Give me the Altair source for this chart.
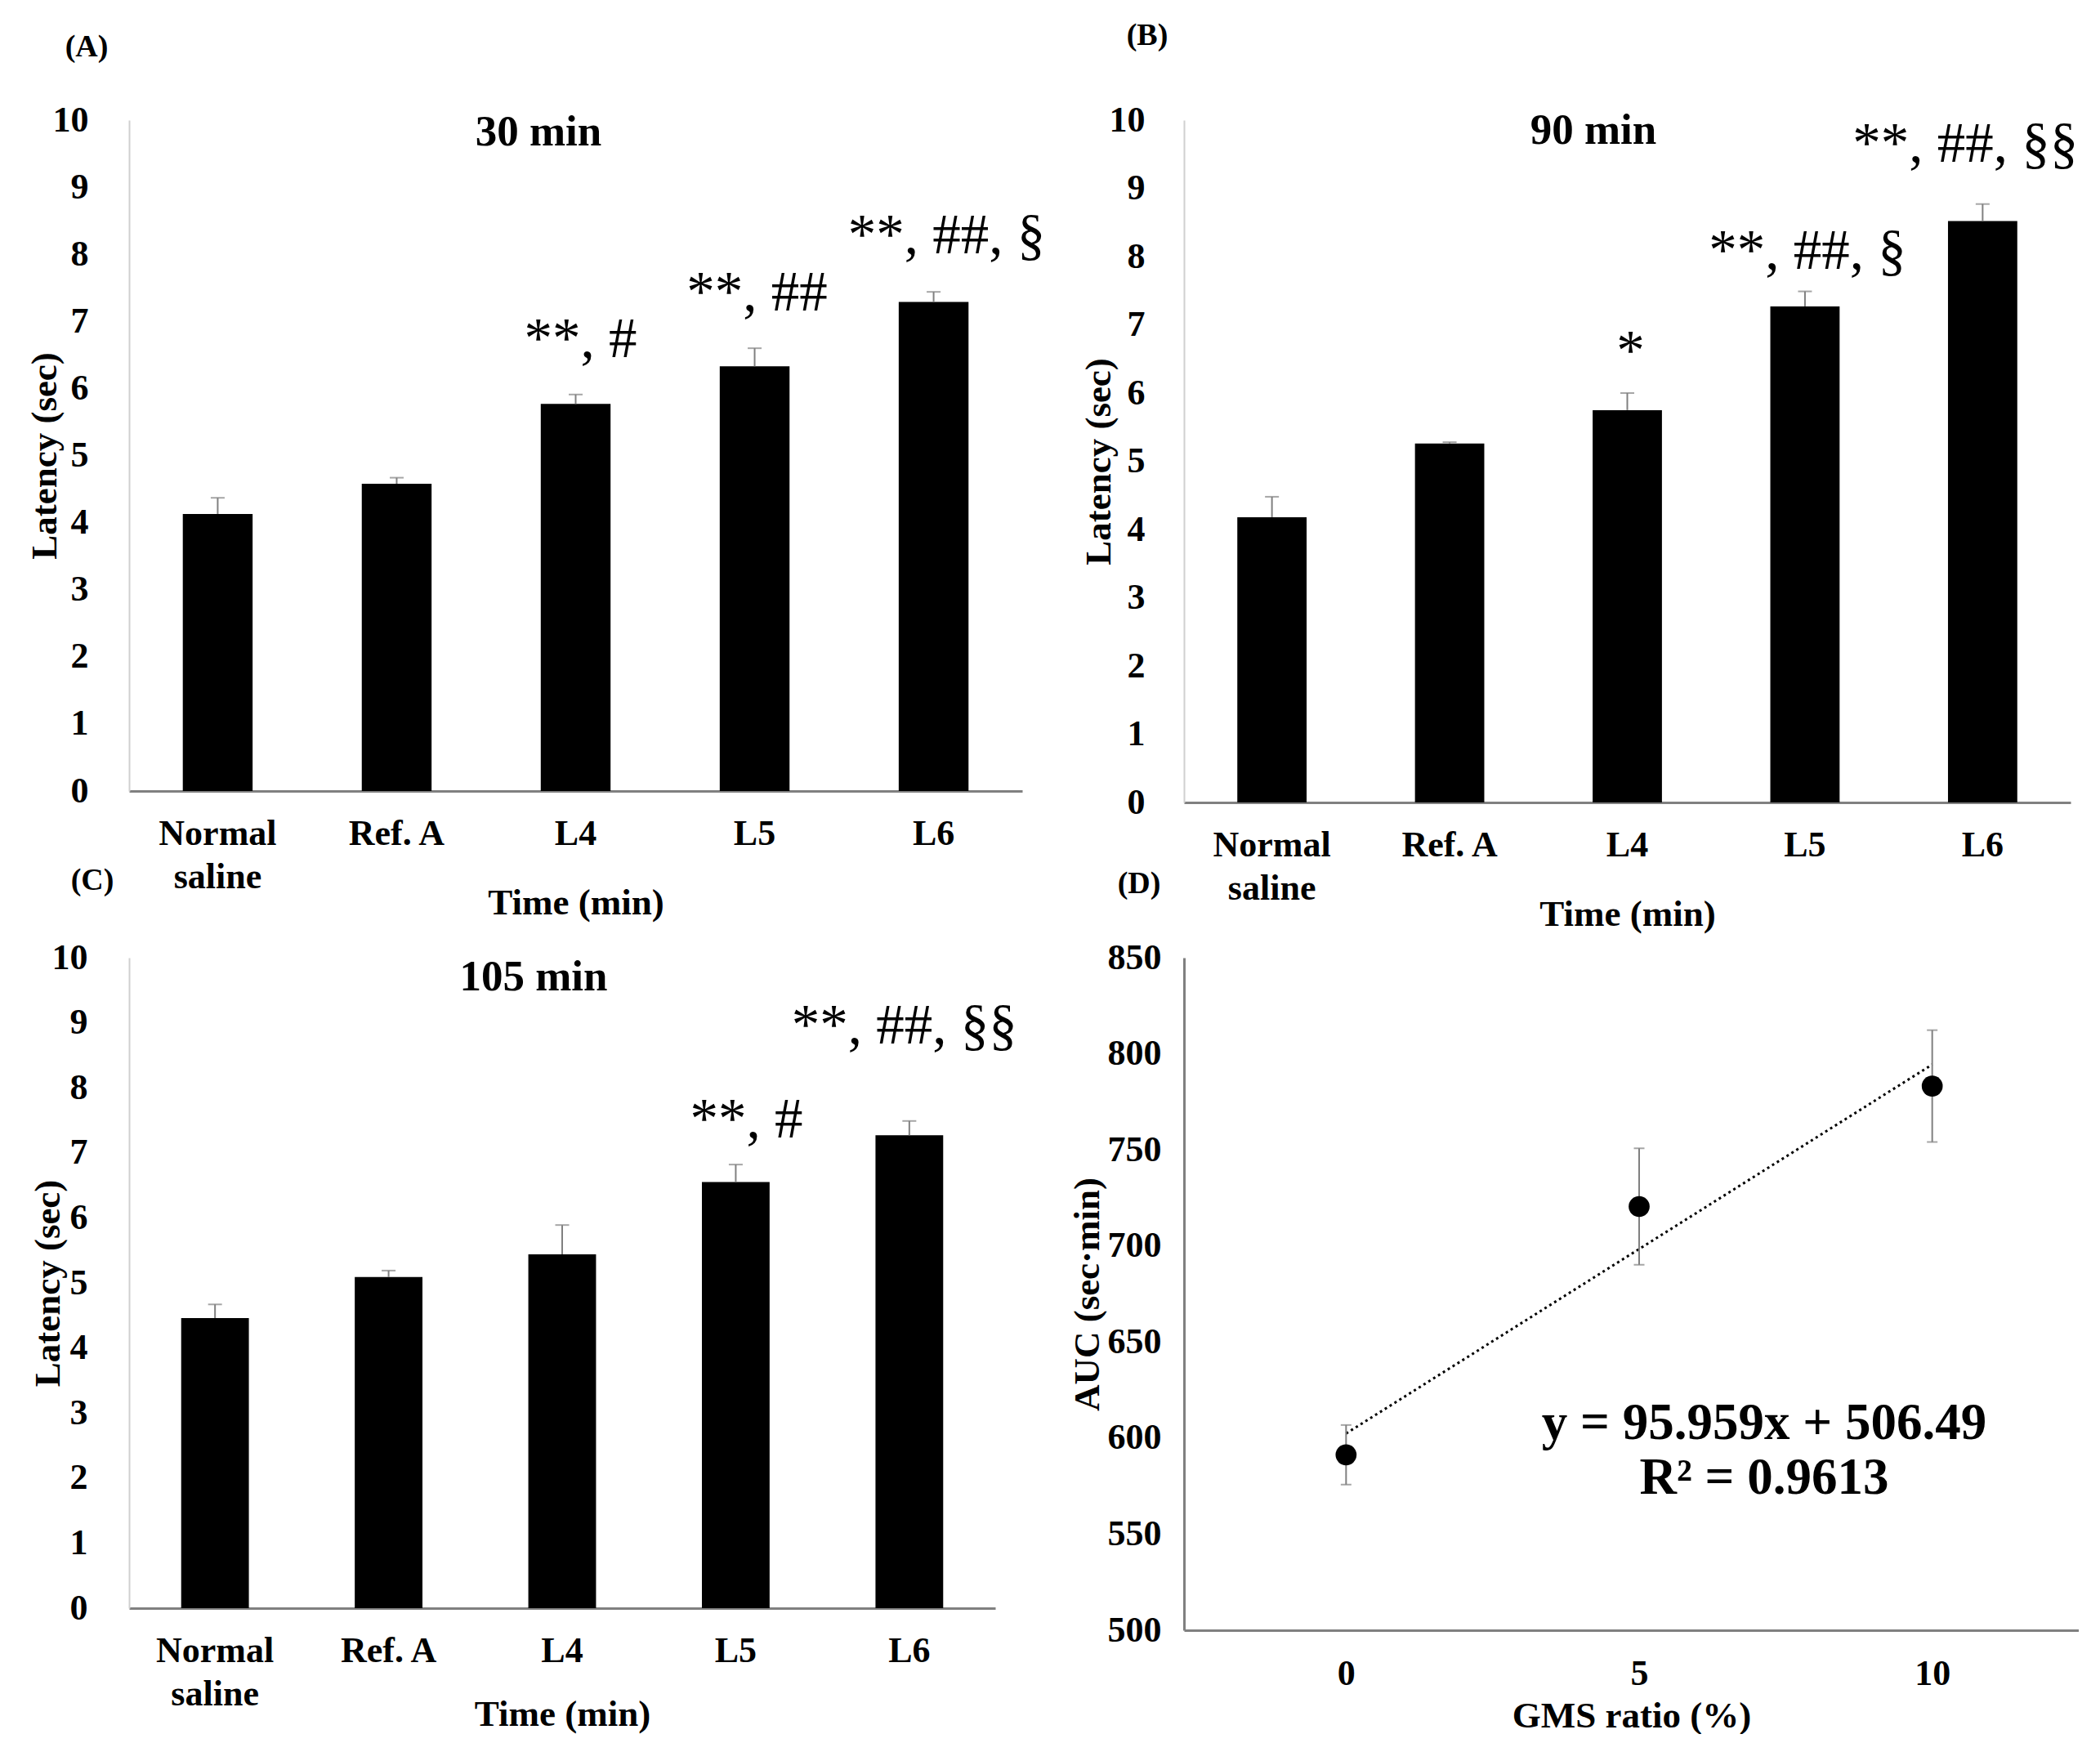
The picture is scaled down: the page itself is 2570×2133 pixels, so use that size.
import pandas as pd
import altair as alt

# ---- data ----
groups = ["Normal saline", "Ref. A", "L4", "L5", "L6"]

lat_30 = [4.13, 4.58, 5.77, 6.33, 7.29]
err_30 = [0.24, 0.09, 0.14, 0.27, 0.15]
lat_90 = [4.18, 5.26, 5.75, 7.27, 8.52]
err_90 = [0.30, 0.02, 0.25, 0.22, 0.25]
lat_105 = [4.46, 5.09, 5.44, 6.55, 7.27]
err_105 = [0.21, 0.10, 0.45, 0.27, 0.22]

# significance marks: group, text, height (sec)
sig_30 = [("L4", "**, #", 6.72), ("L5", "**, ##", 7.42), ("L6", "**, ##, §", 8.27)]
sig_90 = [("L4", "*", 6.60), ("L5", "**, ##, §", 8.07), ("L6", "**, ##, §§", 9.64)]
sig_105 = [("L5", "**, #", 7.50), ("L6", "**, ##, §§", 8.94)]

gms = [0, 5, 10]
auc = [591.3, 720.5, 783.2]
auc_err = [15.5, 30.3, 29.1]
trend_x = [0, 10]
trend_y = [602.4, 794.4]
eq_lines = ["y = 95.959x + 506.49", "R² = 0.9613"]

FONT = "Liberation Serif"
GREY = "#808080"
LIGHT = "#d0d0d0"


def bar_panel(vals, errs, sig, sig_dx, title, title_pos, tag, tag_pos, w, h,
              lab_pad, ytitle_x, xtitle_y):
    df = pd.DataFrame({"group": groups, "lat": vals,
                       "top": [v + e for v, e in zip(vals, errs)]})
    x_axis = alt.Axis(labelAngle=0, labelFontSize=44, labelFontWeight="bold", labelColor="black",
                      labelExpr="datum.value == 'Normal saline' ? ['Normal', 'saline'] : datum.value",
                      labelBaseline="top", labelPadding=30, labelLineHeight=53,
                      ticks=False, tickSize=0, domainColor=GREY, domainWidth=3, grid=False,
                      titleFontSize=45, titleFontWeight="bold", titleColor="black",
                      titleX=w / 2, titleY=xtitle_y, titleBaseline="middle", titleAlign="center")
    y_axis = alt.Axis(values=list(range(11)), labelFontSize=44, labelFontWeight="bold",
                      labelColor="black", labelPadding=lab_pad, ticks=False, tickSize=0,
                      domainColor=LIGHT, domainWidth=2, grid=False,
                      titleFontSize=45, titleFontWeight="bold", titleColor="black",
                      titleX=ytitle_x, titleY=h / 2, titleAngle=-90,
                      titleBaseline="middle", titleAlign="center")
    xs = alt.Scale(paddingInner=0.61, paddingOuter=0.3)
    ys = alt.Scale(domain=[0, 10], nice=False)

    def X():
        return alt.X("group:N", sort=groups, title="Time (min)", scale=xs, axis=x_axis)

    def Y(field):
        return alt.Y(field, type="quantitative", title="Latency (sec)", scale=ys, axis=y_axis)

    bars = alt.Chart(df).mark_bar(color="black").encode(x=X(), y=Y("lat"))
    rule = alt.Chart(df).mark_rule(color=GREY, strokeWidth=2).encode(x=X(), y=Y("lat"), y2="top")
    cap = alt.Chart(df).mark_tick(color=GREY, size=17, thickness=2).encode(x=X(), y=Y("top"))
    layers = [bars, rule, cap]

    for (g, txt, hgt), dx in zip(sig, sig_dx):
        sdf = pd.DataFrame({"group": [g], "txt": [txt], "h": [hgt]})
        layers.append(alt.Chart(sdf).mark_text(fontSize=69, fontWeight="normal", color="black",
                                               align="center", baseline="middle", dx=dx)
                      .encode(x=X(), y=Y("h"), text="txt:N"))

    tdf = pd.DataFrame({"t": [title]})
    layers.append(alt.Chart(tdf).mark_text(fontSize=53, fontWeight="bold", color="black",
                                           align="center", baseline="middle")
                  .encode(text="t:N", x=alt.value(title_pos[0]), y=alt.value(title_pos[1])))
    gdf = pd.DataFrame({"t": [tag]})
    layers.append(alt.Chart(gdf).mark_text(fontSize=38, fontWeight="bold", color="black",
                                           align="center", baseline="middle")
                  .encode(text="t:N", x=alt.value(tag_pos[0]), y=alt.value(tag_pos[1])))
    return alt.layer(*layers).properties(width=w, height=h)


pA = bar_panel(lat_30, err_30, sig_30, [6, 3, 16], "30 min", (501, 15), "(A)", (-52, -89),
               1093, 821, 50, -104, 136)
pB = bar_panel(lat_90, err_90, sig_90, [4, 3, -21], "90 min", (501, 13), "(B)", (-45, -103),
               1085, 835, 48, -105, 136)
pC = bar_panel(lat_105, err_105, sig_105, [13, -6], "105 min", (495, 24), "(C)", (-45, -94),
               1060, 796, 51, -100, 129)

# ---- panel D ----
wD, hD = 1095, 823
dfD = pd.DataFrame({"gms": gms, "auc": auc,
                    "lo": [a - e for a, e in zip(auc, auc_err)],
                    "hi": [a + e for a, e in zip(auc, auc_err)]})
dfT = pd.DataFrame({"gms": trend_x, "auc": trend_y})

xD_axis = alt.Axis(values=gms, format="d", labelAngle=0, labelFontSize=44, labelFontWeight="bold",
                   labelColor="black", labelBaseline="top", labelPadding=31,
                   ticks=False, tickSize=0, domainColor=GREY, domainWidth=3, grid=False,
                   titleFontSize=45, titleFontWeight="bold", titleColor="black",
                   titleX=wD / 2, titleY=104, titleBaseline="middle", titleAlign="center")
yD_axis = alt.Axis(values=list(range(500, 851, 50)), labelFontSize=44, labelFontWeight="bold",
                   labelColor="black", labelPadding=28, ticks=False, tickSize=0,
                   domainColor=GREY, domainWidth=3, grid=False,
                   titleFontSize=45, titleFontWeight="bold", titleColor="black",
                   titleX=-119, titleY=hD / 2, titleAngle=-90,
                   titleBaseline="middle", titleAlign="center")
xDs = alt.Scale(domain=[-2.765, 12.5], nice=False, zero=False)
yDs = alt.Scale(domain=[500, 850], nice=False, zero=False)


def XD():
    return alt.X("gms:Q", title="GMS ratio (%)", scale=xDs, axis=xD_axis)


def YD(field):
    return alt.Y(field, type="quantitative", title="AUC (sec·min)", scale=yDs, axis=yD_axis)


trend = alt.Chart(dfT).mark_line(color="black", strokeDash=[3, 4], strokeWidth=3).encode(x=XD(), y=YD("auc"))
erule = alt.Chart(dfD).mark_rule(color=GREY, strokeWidth=2).encode(x=XD(), y=YD("lo"), y2="hi")
ecap_lo = alt.Chart(dfD).mark_tick(color=GREY, size=13, thickness=2, orient="horizontal").encode(x=XD(), y=YD("lo"))
ecap_hi = alt.Chart(dfD).mark_tick(color=GREY, size=13, thickness=2, orient="horizontal").encode(x=XD(), y=YD("hi"))
pts = alt.Chart(dfD).mark_circle(color="black", size=660, opacity=1).encode(x=XD(), y=YD("auc"))
eq = alt.Chart(pd.DataFrame({"t": [eq_lines[0]]})).mark_text(
    fontSize=63, fontWeight="bold", color="black", align="center", baseline="middle"
).encode(text="t:N", x=alt.value(710), y=alt.value(570))
r2 = alt.Chart(pd.DataFrame({"t": [eq_lines[1]]})).mark_text(
    fontSize=63, fontWeight="bold", color="black", align="center", baseline="middle"
).encode(text="t:N", x=alt.value(710), y=alt.value(637))
tagD = alt.Chart(pd.DataFrame({"t": ["(D)"]})).mark_text(
    fontSize=38, fontWeight="bold", color="black", align="center", baseline="middle"
).encode(text="t:N", x=alt.value(-55), y=alt.value(-90))

pD = alt.layer(trend, erule, ecap_lo, ecap_hi, pts, eq, r2, tagD).properties(width=wD, height=hD)

chart = alt.concat(
    pA, pB, pC, pD, columns=2, spacing={"row": 190, "column": 198},
    bounds="flush", align="each"
).properties(
    padding={"left": 24, "top": 17, "right": 0, "bottom": 0}
).configure(font=FONT).configure_view(stroke=None)

chart.save("out.html", embed_options={"renderer": "svg", "actions": False})
